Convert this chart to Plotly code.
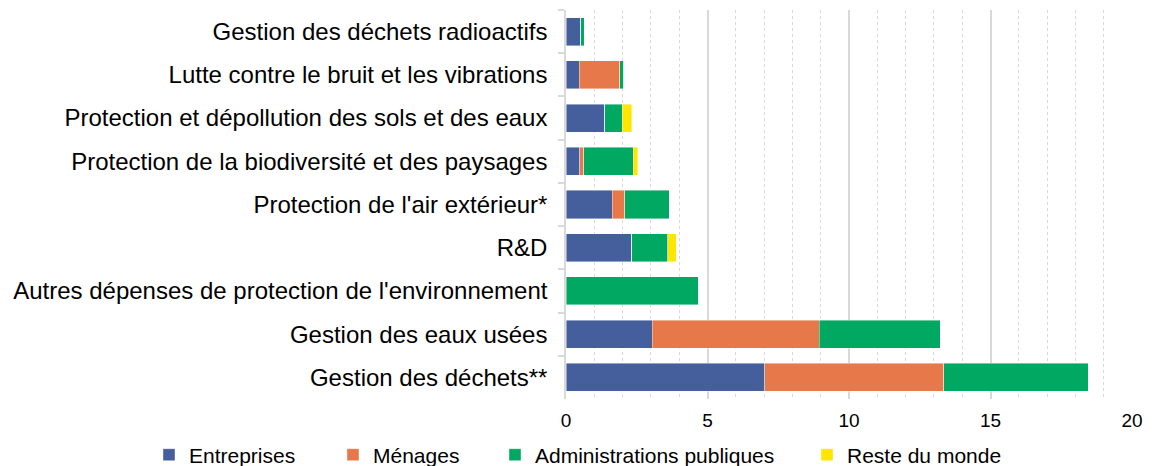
import plotly.graph_objects as go

categories = [
    "Gestion des déchets radioactifs",
    "Lutte contre le bruit et les vibrations",
    "Protection et dépollution des sols et des eaux",
    "Protection de la biodiversité et des paysages",
    "Protection de l'air extérieur*",
    "R&D",
    "Autres dépenses de protection de l'environnement",
    "Gestion des eaux usées",
    "Gestion des déchets**",
]
entreprises = [0.52, 0.46, 1.37, 0.49, 1.63, 2.33, 0.0, 3.04, 7.03]
menages = [0.0, 1.44, 0.0, 0.14, 0.45, 0.0, 0.0, 5.90, 6.32]
administrations = [0.13, 0.14, 0.61, 1.75, 1.57, 1.26, 4.68, 4.28, 5.10]
reste_du_monde = [0.0, 0.0, 0.34, 0.16, 0.0, 0.30, 0.0, 0.0, 0.0]

series = [
    ("Entreprises", entreprises, "#455F9C", "legend", 149),
    ("Ménages", menages, "#E6784A", "legend2", 333),
    ("Administrations publiques", administrations, "#00A862", "legend3", 495),
    ("Reste du monde", reste_du_monde, "#FFE600", "legend4", 807),
]

W, H = 1157, 466
font = "Liberation Sans, Arial, sans-serif"

fig = go.Figure()
legends = {}
for name, vals, col, lg, lx in series:
    fig.add_trace(go.Bar(
        y=categories, x=vals, name=name, orientation="h", legend=lg,
        marker=dict(color=col, line=dict(color="rgba(255,255,255,0.6)", width=0.7)),
    ))
    legends[lg] = dict(orientation="h", xref="container", yref="container",
                       x=lx / W, xanchor="left", y=(H - 455) / H, yanchor="middle",
                       font=dict(size=21), itemwidth=30, bgcolor="rgba(0,0,0,0)",
                       borderwidth=0)

fig.update_layout(
    barmode="stack",
    bargap=0.35,
    width=W, height=H,
    margin=dict(l=566, r=25, t=10, b=67, autoexpand=False),
    paper_bgcolor="white", plot_bgcolor="white",
    font=dict(family=font, size=18, color="#000000"),
    showlegend=True,
    xaxis=dict(range=[0, 20], dtick=5, showgrid=True, gridcolor="#d9d9d9", gridwidth=1.5,
               zeroline=False, showline=False, ticks="", tickfont=dict(size=19),
               ticklabelstandoff=8, automargin=False,
               minor=dict(dtick=1, showgrid=True, gridcolor="#d9d9d9", griddash="dot", gridwidth=1)),
    yaxis=dict(autorange="reversed", showline=True, linecolor="#d9d9d9", linewidth=1.5,
               ticks="outside", tickson="boundaries", ticklen=6, tickcolor="#d9d9d9",
               tickwidth=1.5, tickfont=dict(size=24), showgrid=False,
               ticklabelstandoff=12, automargin=False),
    **legends,
)

fig.write_html("out.html", config={"displayModeBar": False},
               post_script="document.body.style.margin='0';document.body.style.overflow='hidden';")
